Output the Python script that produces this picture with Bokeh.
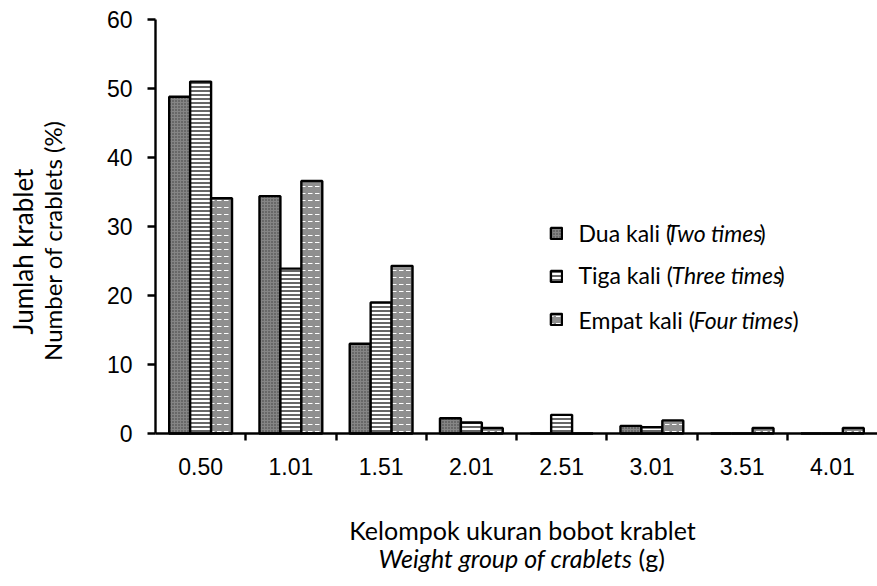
import numpy as np
from bokeh.plotting import figure
from bokeh.models import (ColumnDataSource, FixedTicker, Label, Legend, LegendItem, Range1d)
from bokeh.transform import dodge
from bokeh.embed import file_html
from bokeh.resources import INLINE

# ---- data ----
groups = ["0.50", "1.01", "1.51", "2.01", "2.51", "3.01", "3.51", "4.01"]
dua = [48.8, 34.4, 13.0, 2.2, 0.0, 1.1, 0.0, 0.0]
tiga = [51.0, 23.9, 19.0, 1.6, 2.7, 0.9, 0.0, 0.0]
empat = [34.1, 36.6, 24.3, 0.8, 0.0, 1.9, 0.8, 0.8]
y_ticks = [0, 10, 20, 30, 40, 50, 60]
y_max = 60

pos = [i + 0.5 for i in range(len(groups))]
src = ColumnDataSource(dict(x=pos, dua=dua, tiga=tiga, empat=empat))

# page layout (pixels): plot area spans x 155..877, y 19..433
W, H = 877, 586
FL, FR, FT, FB = 155, 877, 19, 433
px_x = (FR - FL) / len(groups)
px_y = (FB - FT) / y_max
x_range = Range1d(-FL / px_x, len(groups) + (W - FR) / px_x)
y_range = Range1d(-(H - FB) / px_y, y_max + FT / px_y)

p = figure(width=W, height=H, output_backend="svg", toolbar_location=None,
           x_range=x_range, y_range=y_range,
           min_border=0, min_border_left=0, min_border_right=0,
           min_border_top=0, min_border_bottom=0)
p.outline_line_color = None
p.grid.visible = False
p.background_fill_color = "white"
p.border_fill_color = "white"

bw = 0.232
common = dict(source=src, width=bw, bottom=0, line_color="black", line_width=2.4)
r1 = p.vbar(x=dodge("x", -bw), top="dua", fill_color="#858585",
            hatch_pattern="dot", hatch_color="#3a3a3a", hatch_scale=3, hatch_weight=1,
            **common)
r2 = p.vbar(x=dodge("x", 0), top="tiga", fill_color="white",
            hatch_pattern="horizontal_line", hatch_color="black", hatch_scale=4,
            hatch_weight=1.2, **common)
r3 = p.vbar(x=dodge("x", bw), top="empat", fill_color="#8f8f8f",
            hatch_pattern="horizontal_dash", hatch_color="white", hatch_scale=7,
            hatch_weight=1, **common)

# axes (drawn at fixed data locations)
tick_font = "Liberation Sans"
xa = p.xaxis[0]
xa.fixed_location = 0
xa.bounds = (0, len(groups))
xa.ticker = FixedTicker(ticks=pos, minor_ticks=list(range(1, len(groups))))
xa.major_label_overrides = {v: g for v, g in zip(pos, groups)}
xa.major_tick_out = 0
xa.major_tick_in = 0
xa.minor_tick_out = 7
xa.minor_tick_in = 0
xa.minor_tick_line_width = 2.4
xa.axis_line_width = 2.4
xa.major_label_text_font = tick_font
xa.major_label_text_font_size = "23px"
xa.major_label_text_color = "black"
xa.major_label_standoff = 17

ya = p.yaxis[0]
ya.fixed_location = 0
ya.bounds = (0, y_max)
ya.ticker = FixedTicker(ticks=y_ticks, minor_ticks=[])
ya.major_tick_out = 8
ya.major_tick_in = 0
ya.major_tick_line_width = 2.4
ya.axis_line_width = 2.4
ya.major_label_text_font = tick_font
ya.major_label_text_font_size = "23px"
ya.major_label_text_color = "black"
ya.major_label_standoff = 15

# legend (swatches only; text added as labels with italic parts)
legend = Legend(items=[LegendItem(label=" ", renderers=[r]) for r in (r1, r2, r3)],
                location=(549, H - 326), padding=0, margin=0, spacing=29,
                glyph_width=14, glyph_height=14, label_height=14,
                label_text_font_size="1px", border_line_alpha=0,
                background_fill_alpha=0)
p.add_layout(legend, "center")

lab_font = "Lato"

def lab(text, px, py, size, italic=False, align="left", baseline="alphabetic", angle=0):
    # px, py: page pixel position (top-left origin)
    p.add_layout(Label(x=px, y=H - py, x_units="screen", y_units="screen",
                       text=text, text_font=lab_font, text_font_size=size,
                       text_font_style="italic" if italic else "normal",
                       text_align=align, text_baseline=baseline, angle=angle,
                       text_color="black"))

leg_size = "23px"
rows = [
    (232, [("Dua kali (", 578, False), ("Two times", 666, True), (")", 759, False)]),
    (274, [("Tiga kali (", 578, False), ("Three times", 671, True), (")", 778, False)]),
    (319, [("Empat kali (", 578, False), ("Four times", 693, True), (")", 792, False)]),
]
for by, segs in rows:
    for t, sx, it in segs:
        lab(t, sx, by, leg_size, italic=it)

# x axis title
lab("Kelompok ukuran bobot krablet", 522, 529, "25px", align="center")
lab("Weight group of crablets", 378, 557, "25px", italic=True)
lab("(g)", 638, 557, "25px")

# y axis title (rotated)
lab("Jumlah krablet", 22, 251, "26px", align="center", baseline="middle", angle=np.pi / 2)
lab("Number of crablets (%)", 52, 240, "24px", align="center", baseline="middle", angle=np.pi / 2)

open("out.html", "w").write(file_html(p, INLINE))
